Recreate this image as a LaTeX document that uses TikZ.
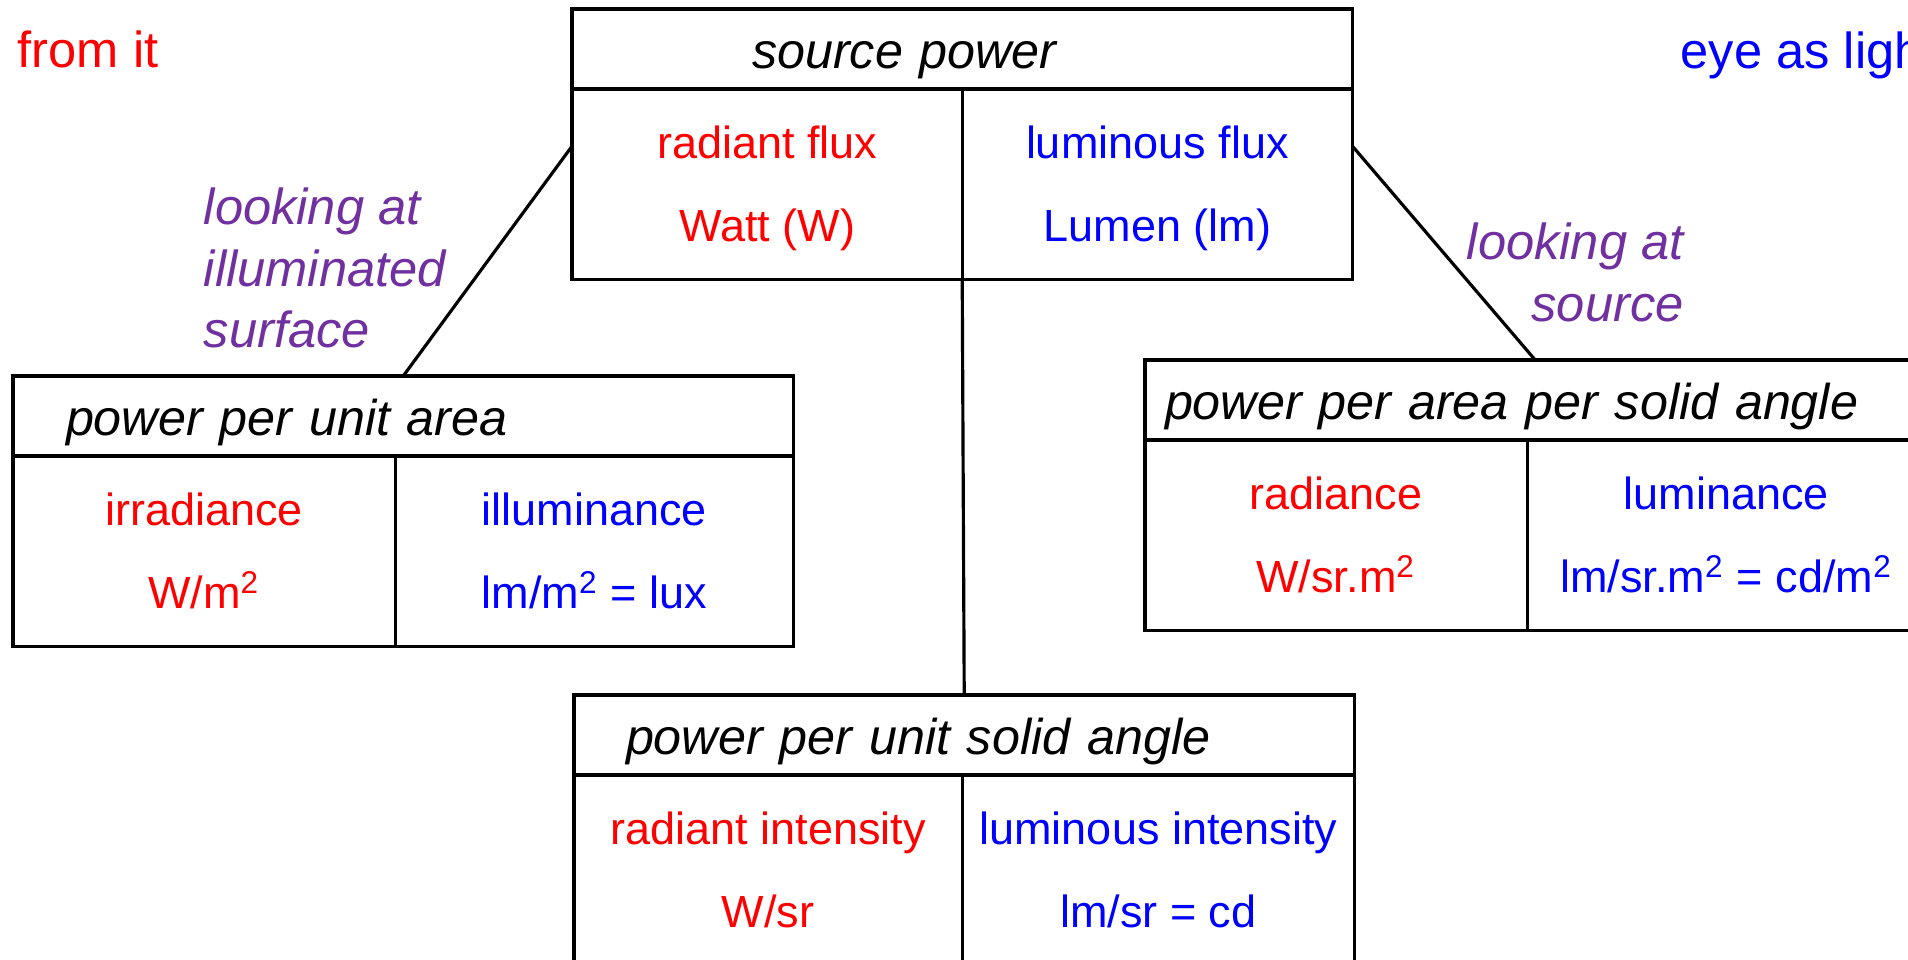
\documentclass[tikz,border=0pt]{standalone}
\usepackage{fontspec}
\setmainfont{Liberation Sans}
\usetikzlibrary{positioning}
\definecolor{radred}{RGB}{255,0,0}
\definecolor{lumblue}{RGB}{0,0,255}
\definecolor{lookpurple}{HTML}{7030A0}
\tikzset{
    head/.style={rectangle, draw, line width=0.9pt, outer sep=0pt, minimum width=7.8cm, text width=7.8cm, inner xsep=0pt, inner ysep=0pt, text height=0.59cm, text depth=0.21cm, align=left, font=\fontsize{14.3}{17}\selectfont\itshape},
    cell/.style={rectangle, draw, line width=0.9pt, outer sep=0pt, minimum height=1.9cm, inner sep=0pt, align=center, font=\fontsize{12.8}{23.5}\selectfont},
    cellrad/.style={cell, text=radred},
    celllum/.style={cell, text=lumblue},
    link/.style={line width=0.9pt},
    looklab/.style={text=lookpurple, font=\fontsize{14.4}{17.4}\selectfont\itshape, inner sep=0pt},
    cornertxt/.style={font=\fontsize{14.4}{17}\selectfont, inner sep=0pt},
}

\begin{document}
\begin{tikzpicture}[x=0.01cm, y=-0.01cm]
\useasboundingbox (0,0) rectangle (1908,959);

% ── Cut-off slide text (corners) ──
\node[cornertxt, text=radred, anchor=base west] (fromit) at (17, 67) {from it};
\node[cornertxt, text=lumblue, anchor=base west] (eyelight) at (1680, 68) {eye as light};

% ── Source power (top) ──
\node[head, anchor=north west] (srchd) at (572, 9) {\hspace*{1.8cm}source power};
\node[cellrad, minimum width=3.9cm, below right=0pt and 0pt of srchd.south west] (srcrad) {radiant flux\\Watt \smash{(W)}};
\node[celllum, minimum width=3.9cm, right=0pt of srcrad] (srclum) {luminous flux\\Lumen \smash{(lm)}};

% ── Per unit area (left) ──
\node[head, anchor=north west] (areahd) at (13, 376) {\hspace*{0.53cm}power per unit area};
\node[cellrad, minimum width=3.82cm, below right=0pt and 0pt of areahd.south west] (irrad) {irradiance\\W/m\textsuperscript{2}};
\node[celllum, minimum width=3.98cm, right=0pt of irrad] (illum) {illuminance\\lm/m\textsuperscript{2} = lux};

% ── Per area per solid angle (right) ──
\node[head, anchor=north west] (radhd) at (1145, 360) {\hspace*{0.2cm}power per area per solid angle};
\node[cellrad, minimum width=3.82cm, below right=0pt and 0pt of radhd.south west] (radnc) {radiance\\W/sr.m\textsuperscript{2}};
\node[celllum, minimum width=3.98cm, right=0pt of radnc] (lumnc) {luminance\\lm/sr.m\textsuperscript{2} = cd/m\textsuperscript{2}};

% ── Per unit solid angle (bottom) ──
\node[head, anchor=north west] (sahd) at (574, 695) {\hspace*{0.52cm}power per unit solid angle};
\node[cellrad, minimum width=3.88cm, below right=0pt and 0pt of sahd.south west] (radint) {radiant intensity\\W/sr};
\node[celllum, minimum width=3.92cm, right=0pt of radint] (lumint) {luminous intensity\\lm/sr = cd};

% ── Links ──
\draw[link] (srcrad.169) -- node[looklab, pos=0.53, left=0.35cm, align=left] (lkarea) {looking at\\illuminated\\surface} (areahd.north);
\draw[link] (srclum.11) -- node[looklab, pos=0.59, right=0.05cm, align=right] (lksrc) {looking at\\source} (radhd.north);
\draw[link] (srcrad.south east) -- (sahd.north);

\end{tikzpicture}
\end{document}
